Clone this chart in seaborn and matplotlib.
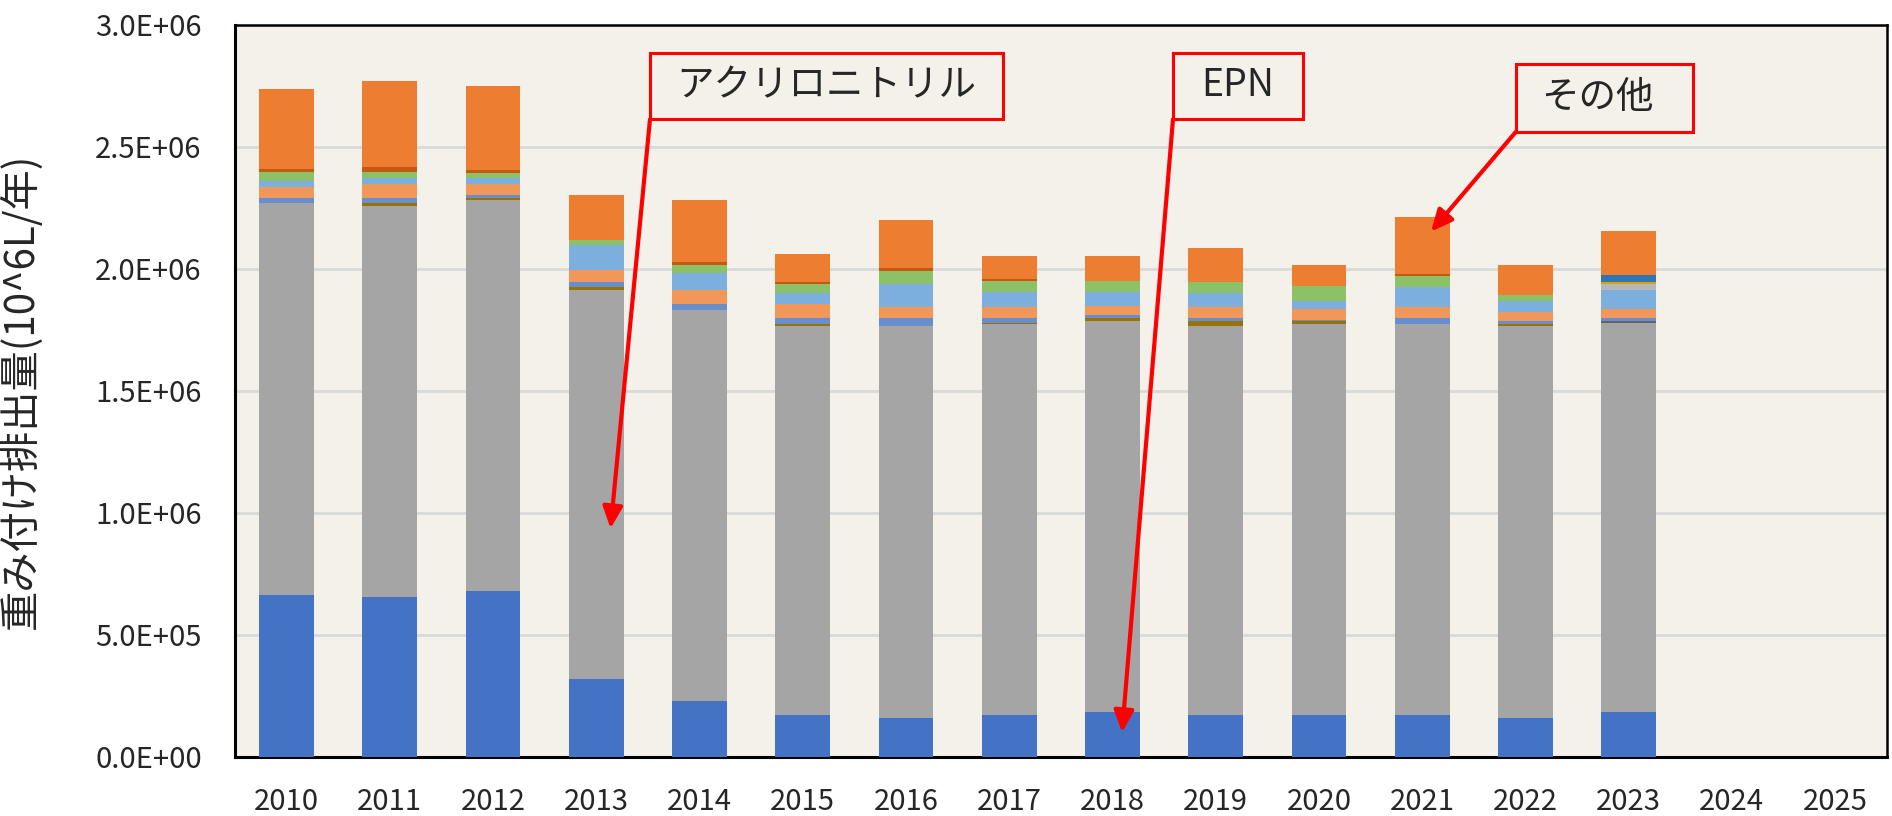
import numpy as np
import matplotlib
matplotlib.use("Agg")
import matplotlib.pyplot as plt
import matplotlib.patches as patches
import seaborn as sns

# Years on the axis (2024, 2025 have no data yet)
years_all = [str(y) for y in range(2010, 2026)]
years = [str(y) for y in range(2010, 2024)]

# Weighted emissions per substance, in 10^6 units (bottom of stack first)
epn = [0.665, 0.655, 0.679, 0.317, 0.228, 0.173, 0.159, 0.173, 0.183, 0.173, 0.173, 0.173, 0.159, 0.183]
acrylonitrile = [1.604, 1.604, 1.602, 1.596, 1.603, 1.592, 1.607, 1.603, 1.605, 1.592, 1.603, 1.603, 1.606, 1.594]
sub_dgray = [0, 0, 0, 0, 0, 0, 0, 0, 0, 0, 0, 0, 0, 0.011]
sub_olive = [0, 0.011, 0.011, 0.011, 0, 0.011, 0, 0.002, 0.011, 0.022, 0.011, 0, 0.011, 0]
sub_blue = [0.023, 0.022, 0.012, 0.022, 0.025, 0.022, 0.033, 0.022, 0.011, 0.011, 0.004, 0.022, 0.011, 0.011]
sub_lorange = [0.045, 0.058, 0.045, 0.048, 0.059, 0.059, 0.045, 0.045, 0.036, 0.045, 0.044, 0.045, 0.037, 0.035]
sub_lblue = [0.023, 0.023, 0.023, 0.102, 0.067, 0.044, 0.093, 0.059, 0.058, 0.059, 0.034, 0.081, 0.044, 0.079]
sub_lgray = [0, 0, 0, 0, 0, 0, 0, 0, 0, 0, 0, 0, 0, 0.026]
sub_gold = [0, 0, 0, 0, 0, 0, 0, 0, 0, 0, 0, 0, 0, 0.008]
sub_green = [0.038, 0.023, 0.023, 0.022, 0.036, 0.036, 0.056, 0.045, 0.045, 0.045, 0.059, 0.045, 0.023, 0]
sub_dblue = [0, 0, 0, 0, 0, 0, 0, 0, 0, 0, 0, 0, 0, 0.026]
sub_dorange = [0.011, 0.023, 0.012, 0, 0.011, 0.009, 0.011, 0.011, 0, 0, 0, 0.011, 0, 0]
others = [0.329, 0.353, 0.342, 0.185, 0.252, 0.117, 0.198, 0.093, 0.104, 0.139, 0.090, 0.231, 0.127, 0.182]

series = [epn, acrylonitrile, sub_dgray, sub_olive, sub_blue, sub_lorange, sub_lblue,
          sub_lgray, sub_gold, sub_green, sub_dblue, sub_dorange, others]
colors = ['#4472C4', '#A5A5A5', '#636363', '#997300', '#698ED0', '#F1975A', '#7CAFDD',
          '#B7B7B7', '#D9A300', '#8CC168', '#2E75B6', '#C65911', '#ED7D31']

W, H = 1892, 816

sns.set_style("white")
plt.rcParams['font.family'] = ['Noto Sans CJK JP', 'DejaVu Sans']

fig = plt.figure(figsize=(W / 100, H / 100), dpi=100)
fig.patch.set_facecolor('white')
ax = fig.add_axes([235 / W, 1 - 756.7 / H, (1886.7 - 235) / W, (756.7 - 25) / H])
ax.set_facecolor('#F4F1EA')

# stacked bars: draw cumulative totals from the top series down
cum = np.cumsum(np.array(series) * 1e6, axis=0)
for i in range(len(series) - 1, -1, -1):
    sns.barplot(x=years, y=cum[i], order=years_all, color=colors[i], saturation=1,
                width=0.53, errorbar=None, ax=ax, zorder=3, linewidth=0)

ax.set_xlim(-0.5, len(years_all) - 0.5)
ax.set_ylim(0, 3.0e6)
ax.set_yticks(np.arange(0, 3.01e6, 0.5e6))
ax.yaxis.set_major_formatter(matplotlib.ticker.FuncFormatter(lambda v, p: f"{v:.1E}"))
ax.yaxis.grid(True, color='#D9D9D9', lw=2)
ax.xaxis.grid(False)
ax.set_axisbelow(True)
ax.tick_params(axis='y', length=0, pad=24, labelsize=21)
ax.tick_params(axis='x', length=0, pad=22, labelsize=21)
ax.set_xlabel('')
ax.set_ylabel('重み付け排出量(10^6L/年)', fontsize=29)
ax.yaxis.set_label_coords((42 - 235) / (1886.7 - 235), 0.5)

for side in ['left', 'bottom']:
    ax.spines[side].set_color('black')
    ax.spines[side].set_linewidth(2.2)
for side in ['top', 'right']:
    ax.spines[side].set_color('black')
    ax.spines[side].set_linewidth(1.8)


def fpx(x, y):
    return (x / W, 1 - y / H)


# callout boxes with arrows
callouts = [
    ('アクリロニトリル', (650, 52.7, 1003, 119.3), 826, (3.138, 0.936e6)),
    ('EPN', (1173, 52.7, 1303, 119.3), 1238, (8.093, 0.10e6)),
    ('その他', (1516, 64, 1693, 131.7), 1597, (11.086, 2.153e6)),
]
for label, (x0, y0, x1, y1), tx, tip in callouts:
    rect = patches.Rectangle(fpx(x0, y1), (x1 - x0) / W, (y1 - y0) / H,
                             transform=fig.transFigure, facecolor='none',
                             edgecolor='#FF0000', lw=2.2, zorder=6)
    fig.add_artist(rect)
    fig.text(tx / W, 1 - (y0 + y1) / 2 / H, label, fontsize=27, ha='center', va='center')
    ax.annotate('', xy=tip, xycoords='data', xytext=fpx(x0, y1), textcoords='figure fraction',
                arrowprops=dict(arrowstyle='-|>,head_length=0.65,head_width=0.3',
                                color='#FF0000', lw=3, mutation_scale=20,
                                shrinkA=0, shrinkB=0),
                annotation_clip=False, zorder=7)

fig.savefig('out.png', dpi=100)
